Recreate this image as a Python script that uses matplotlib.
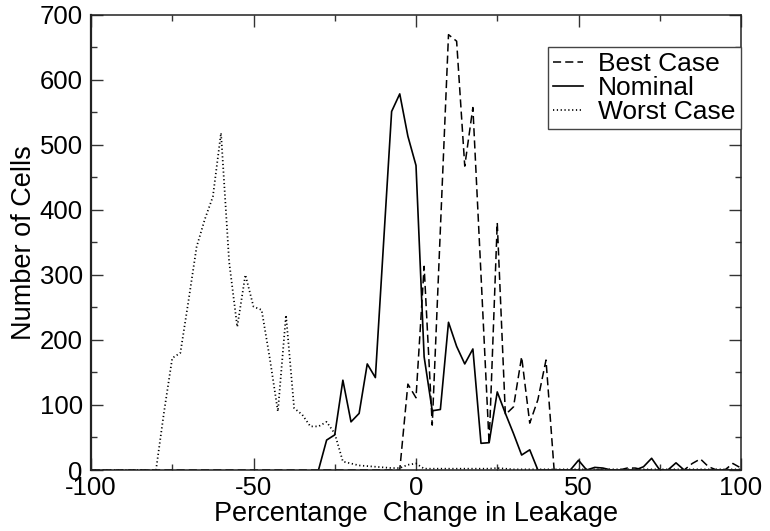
import numpy as np
import matplotlib
matplotlib.use("Agg")
import matplotlib.pyplot as plt
from matplotlib.ticker import MultipleLocator

plt.rcParams['font.family'] = ['Liberation Sans', 'DejaVu Sans']
plt.rcParams['axes.unicode_minus'] = False

# x grid (percentage change bins, step 2.5)
x_full = np.arange(-100, 100.01, 2.5)
x_nominal = np.arange(-30, 100.01, 2.5)

best_case = [
    0, 0, 0, 0, 0, 0, 0, 0, 0, 0,          # -100 .. -77.5
    0, 0, 0, 0, 0, 0, 0, 0, 0, 0,          # -75 .. -52.5
    0, 0, 0, 0, 0, 0, 0, 0, 0, 0,          # -50 .. -27.5
    0, 0, 0, 0, 0, 0, 0, 0, 0, 132,        # -25 .. -2.5
    111, 313, 69, 370, 669, 659, 467, 557, 300, 40,   # 0 .. 22.5
    380, 85, 97, 174, 72, 108, 169, 0, 0, 0,          # 25 .. 47.5
    0, 0, 0, 0, 0, 0, 3, 3, 0, 0,          # 50 .. 72.5
    0, 0, 0, 0, 10, 17, 5, 0, 0, 10,       # 75 .. 97.5
    3,                                     # 100
]

nominal = [
    0, 46, 54, 138, 74, 87, 163, 142, 347, 551,       # -30 .. -7.5
    578, 513, 468, 174, 91, 93, 227, 190, 163, 186,   # -5 .. 17.5
    41, 42, 120, 87, 56, 23, 31, 0, 0, 0,             # 20 .. 42.5
    0, 0, 15, 0, 4, 3, 0, 0, 0, 0,                    # 45 .. 67.5
    5, 18, 0, 0, 11, 0, 0, 0, 0, 0,                   # 70 .. 92.5
    0, 0, 0,                                          # 95 .. 100
]

worst_case = [
    0, 0, 0, 0, 0, 0, 0, 0, 0, 90,                    # -100 .. -77.5
    172, 180, 260, 343, 385, 420, 518, 320, 220, 300, # -75 .. -52.5
    251, 246, 172, 90, 238, 95, 85, 67, 67, 74,       # -50 .. -27.5
    56, 13, 10, 7, 6, 5, 4, 3, 3, 8,                  # -25 .. -2.5
    10, 2, 2, 2, 2, 2, 2, 2, 2, 2,                    # 0 .. 22.5
    3, 2, 1, 1, 1, 1, 1, 1, 1, 1,                     # 25 .. 47.5
    1, 1, 1, 1, 1, 1, 1, 1, 1, 1,                     # 50 .. 72.5
    1, 1, 1, 1, 1, 1, 1, 1, 1, 1,                     # 75 .. 97.5
    1,                                                # 100
]

x_ticks = [-100, -50, 0, 50, 100]
y_ticks = [0, 100, 200, 300, 400, 500, 600, 700]

fig = plt.figure(figsize=(7.70, 5.31), dpi=100)
ax = fig.add_axes([91/770, 1 - 470/531, 650/770, 455.5/531])

ax.plot(x_full, best_case, color='black', lw=1.1, linestyle=(0, (5.3, 2.7)), label='Best Case')
ax.plot(x_nominal, nominal, color='black', lw=1.2, linestyle='-', label='Nominal')
ax.plot(x_full, worst_case, color='black', lw=1.25, linestyle=(0, (0.7, 1.5)), label='Worst Case')

ax.set_xlim(-100, 100)
ax.set_ylim(0, 700)
ax.set_xticks(x_ticks)
ax.set_yticks(y_ticks)
ax.xaxis.set_minor_locator(MultipleLocator(25))
ax.yaxis.set_minor_locator(MultipleLocator(50))
ax.tick_params(which='both', direction='in', top=True, right=True, labelsize=18.5, width=1.0, color='#333333')
ax.tick_params(which='major', length=8.5)
ax.tick_params(which='minor', length=4.5)
ax.tick_params(axis='y', which='major', pad=6)
ax.tick_params(axis='x', which='major', pad=4)

for s in ax.spines.values():
    s.set_linewidth(1.1)
    s.set_color('#222222')
ax.spines['left'].set_linewidth(1.6)

ax.set_xlabel('Percentange  Change in Leakage', fontsize=19.5, labelpad=1)
ax.set_ylabel('Number of Cells', fontsize=19.5, labelpad=2)

leg = ax.legend(loc='upper right', bbox_to_anchor=(1.0, 1 - 32/455.5), borderaxespad=0,
                fontsize=19, handlelength=1.1, handletextpad=0.6, labelspacing=0.0,
                borderpad=0.2, fancybox=False, frameon=True, framealpha=1)
leg.get_frame().set_edgecolor('#444444')
leg.get_frame().set_linewidth(1.0)

fig.savefig('out.png', dpi=100)
